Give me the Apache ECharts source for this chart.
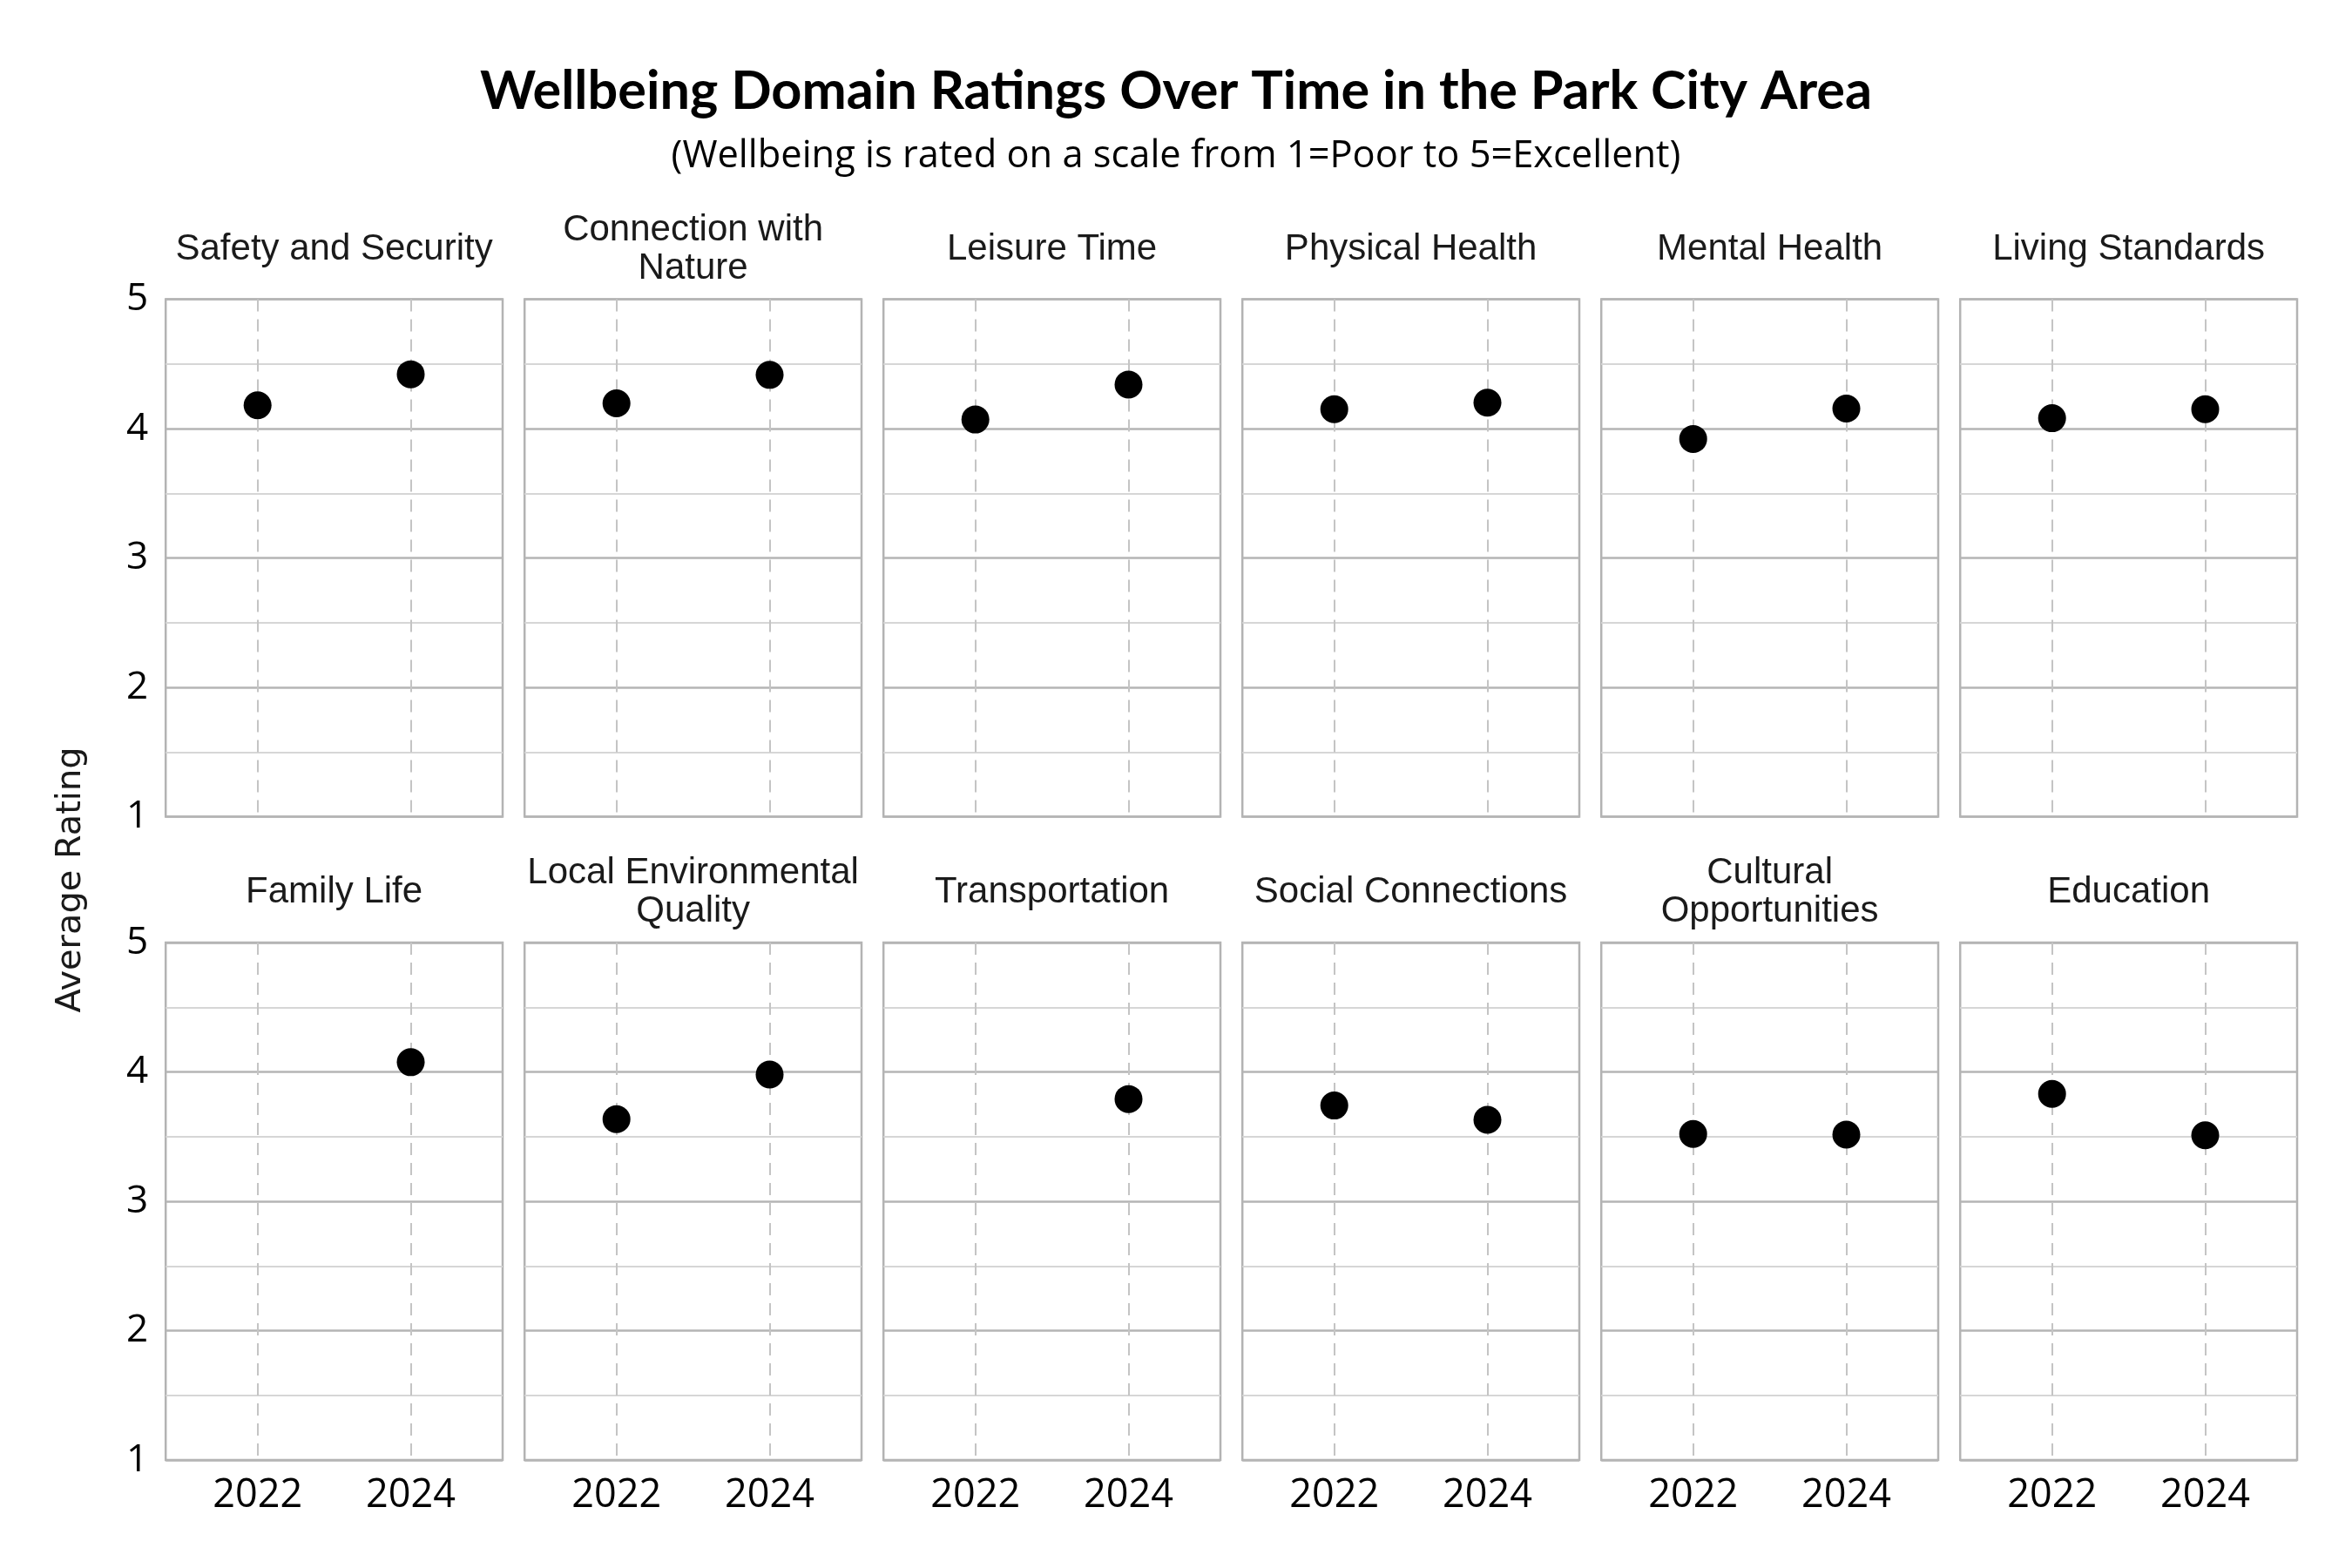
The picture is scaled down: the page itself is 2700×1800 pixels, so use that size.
<!DOCTYPE html>
<html><head><meta charset="utf-8">
<script src="https://cdn.jsdelivr.net/npm/echarts@6/dist/echarts.min.js"></script>
<style>html,body{margin:0;padding:0;background:#fff}#c{width:2700px;height:1800px}</style>
</head><body><div id="c"></div>
<script>
// ---- data ----
const domains = ['Safety and Security','Connection with Nature','Leisure Time','Physical Health','Mental Health','Living Standards',
  'Family Life','Local Environmental Quality','Transportation','Social Connections','Cultural Opportunities','Education'];
const panelTitles = ['Safety and Security','Connection with\nNature','Leisure Time','Physical Health','Mental Health','Living Standards',
  'Family Life','Local Environmental\nQuality','Transportation','Social Connections','Cultural\nOpportunities','Education'];
const years = [2022, 2024];
const rating2022 = [4.18, 4.195, 4.07, 4.15, 3.92, 4.08, null, 3.635, null, 3.74, 3.52, 3.83];
const rating2024 = [4.42, 4.415, 4.34, 4.20, 4.155, 4.15, 4.075, 3.98, 3.79, 3.63, 3.515, 3.51];
const yTicks = [1, 2, 3, 4, 5];
const chartTitle = 'Wellbeing Domain Ratings Over Time in the Park City Area';
const chartSubtitle = '(Wellbeing is rated on a scale from 1=Poor to 5=Excellent)';
const yAxisTitle = 'Average Rating';

// ---- layout ----
const COLS = 6;
const gridLeft0 = 190.2, gridPitch = 412, gridW = 386.8;
const rowTop = [343.5, 1082], gridH = 594;

function fitFont(text, family, weight, target) {
  const ctx = document.createElement('canvas').getContext('2d');
  ctx.font = weight + ' 100px ' + family;
  return 100 * target / ctx.measureText(text).width;
}

const grids = [], xAxes = [], yAxes = [], series = [], graphics = [];
domains.forEach((d, i) => {
  const r = Math.floor(i / COLS), c = i % COLS;
  const left = gridLeft0 + c * gridPitch, top = rowTop[r];
  grids.push({left: left, top: top, width: gridW, height: gridH, show: true,
    borderColor: '#b3b3b3', borderWidth: 2.5, backgroundColor: 'transparent',
    containLabel: false, outerBoundsMode: 'none'});
  xAxes.push({type: 'value', gridIndex: i, min: 2020.8, max: 2025.2,
    axisLine: {show: false}, axisTick: {show: false, customValues: years},
    axisLabel: {show: r === 1, customValues: years, fontFamily: 'Open Sans', fontSize: 45, color: '#000', margin: 19,
      formatter: v => String(v)},
    splitLine: {show: true, lineStyle: {color: '#c4c4c4', width: 2, type: [14, 9]}}});
  yAxes.push({type: 'value', gridIndex: i, min: yTicks[0], max: yTicks[yTicks.length - 1], interval: 1,
    axisLine: {show: false}, axisTick: {show: false},
    axisLabel: {show: c === 0, fontFamily: 'Open Sans', fontSize: 44, color: '#000', margin: 20},
    splitLine: {show: true, lineStyle: {color: '#b5b5b5', width: 2.5}},
    minorTick: {show: false, splitNumber: 2},
    minorSplitLine: {show: true, lineStyle: {color: '#d6d6d6', width: 2}}});
  const pts = [];
  if (rating2022[i] != null) pts.push([years[0], rating2022[i]]);
  if (rating2024[i] != null) pts.push([years[1], rating2024[i]]);
  series.push({type: 'scatter', name: d, xAxisIndex: i, yAxisIndex: i, data: pts,
    symbol: 'circle', symbolSize: 32, itemStyle: {color: '#000', opacity: 1}, silent: true, z: 5});
  graphics.push({type: 'text', x: left + gridW / 2, y: top - 57.5, silent: true,
    style: {text: panelTitles[i], font: '42px "Liberation Sans", Arial, sans-serif', fill: '#1a1a1a',
      textAlign: 'center', textVerticalAlign: 'middle', align: 'center', verticalAlign: 'middle', lineHeight: 44}});
});

const titleSize = fitFont(chartTitle, 'Lato', 'bold', 1599);
const subSize = fitFont(chartSubtitle, '"Open Sans"', 'normal', 1160);
const axisNameSize = fitFont(yAxisTitle, '"DejaVu Sans"', 'normal', 305);

graphics.push({type: 'text', x: 1350, y: 105, silent: true,
  style: {text: chartTitle, font: 'bold ' + titleSize.toFixed(1) + 'px Lato, sans-serif', fill: '#000',
    textAlign: 'center', textVerticalAlign: 'middle', align: 'center', verticalAlign: 'middle'}});
graphics.push({type: 'text', x: 1350, y: 180, silent: true,
  style: {text: chartSubtitle, font: subSize.toFixed(1) + 'px "Open Sans", sans-serif', fill: '#000',
    textAlign: 'center', textVerticalAlign: 'middle', align: 'center', verticalAlign: 'middle'}});
graphics.push({type: 'text', x: 82, y: 1010, rotation: Math.PI / 2, silent: true,
  style: {text: yAxisTitle, font: axisNameSize.toFixed(1) + 'px "DejaVu Sans", sans-serif', fill: '#1a1a1a',
    textAlign: 'center', textVerticalAlign: 'middle', align: 'center', verticalAlign: 'middle'}});

const chart = echarts.init(document.getElementById('c'), null, {renderer: 'canvas'});
chart.setOption({
  backgroundColor: '#fff',
  animation: false,
  grid: grids, xAxis: xAxes, yAxis: yAxes, series: series,
  graphic: graphics
});
</script></body></html>
